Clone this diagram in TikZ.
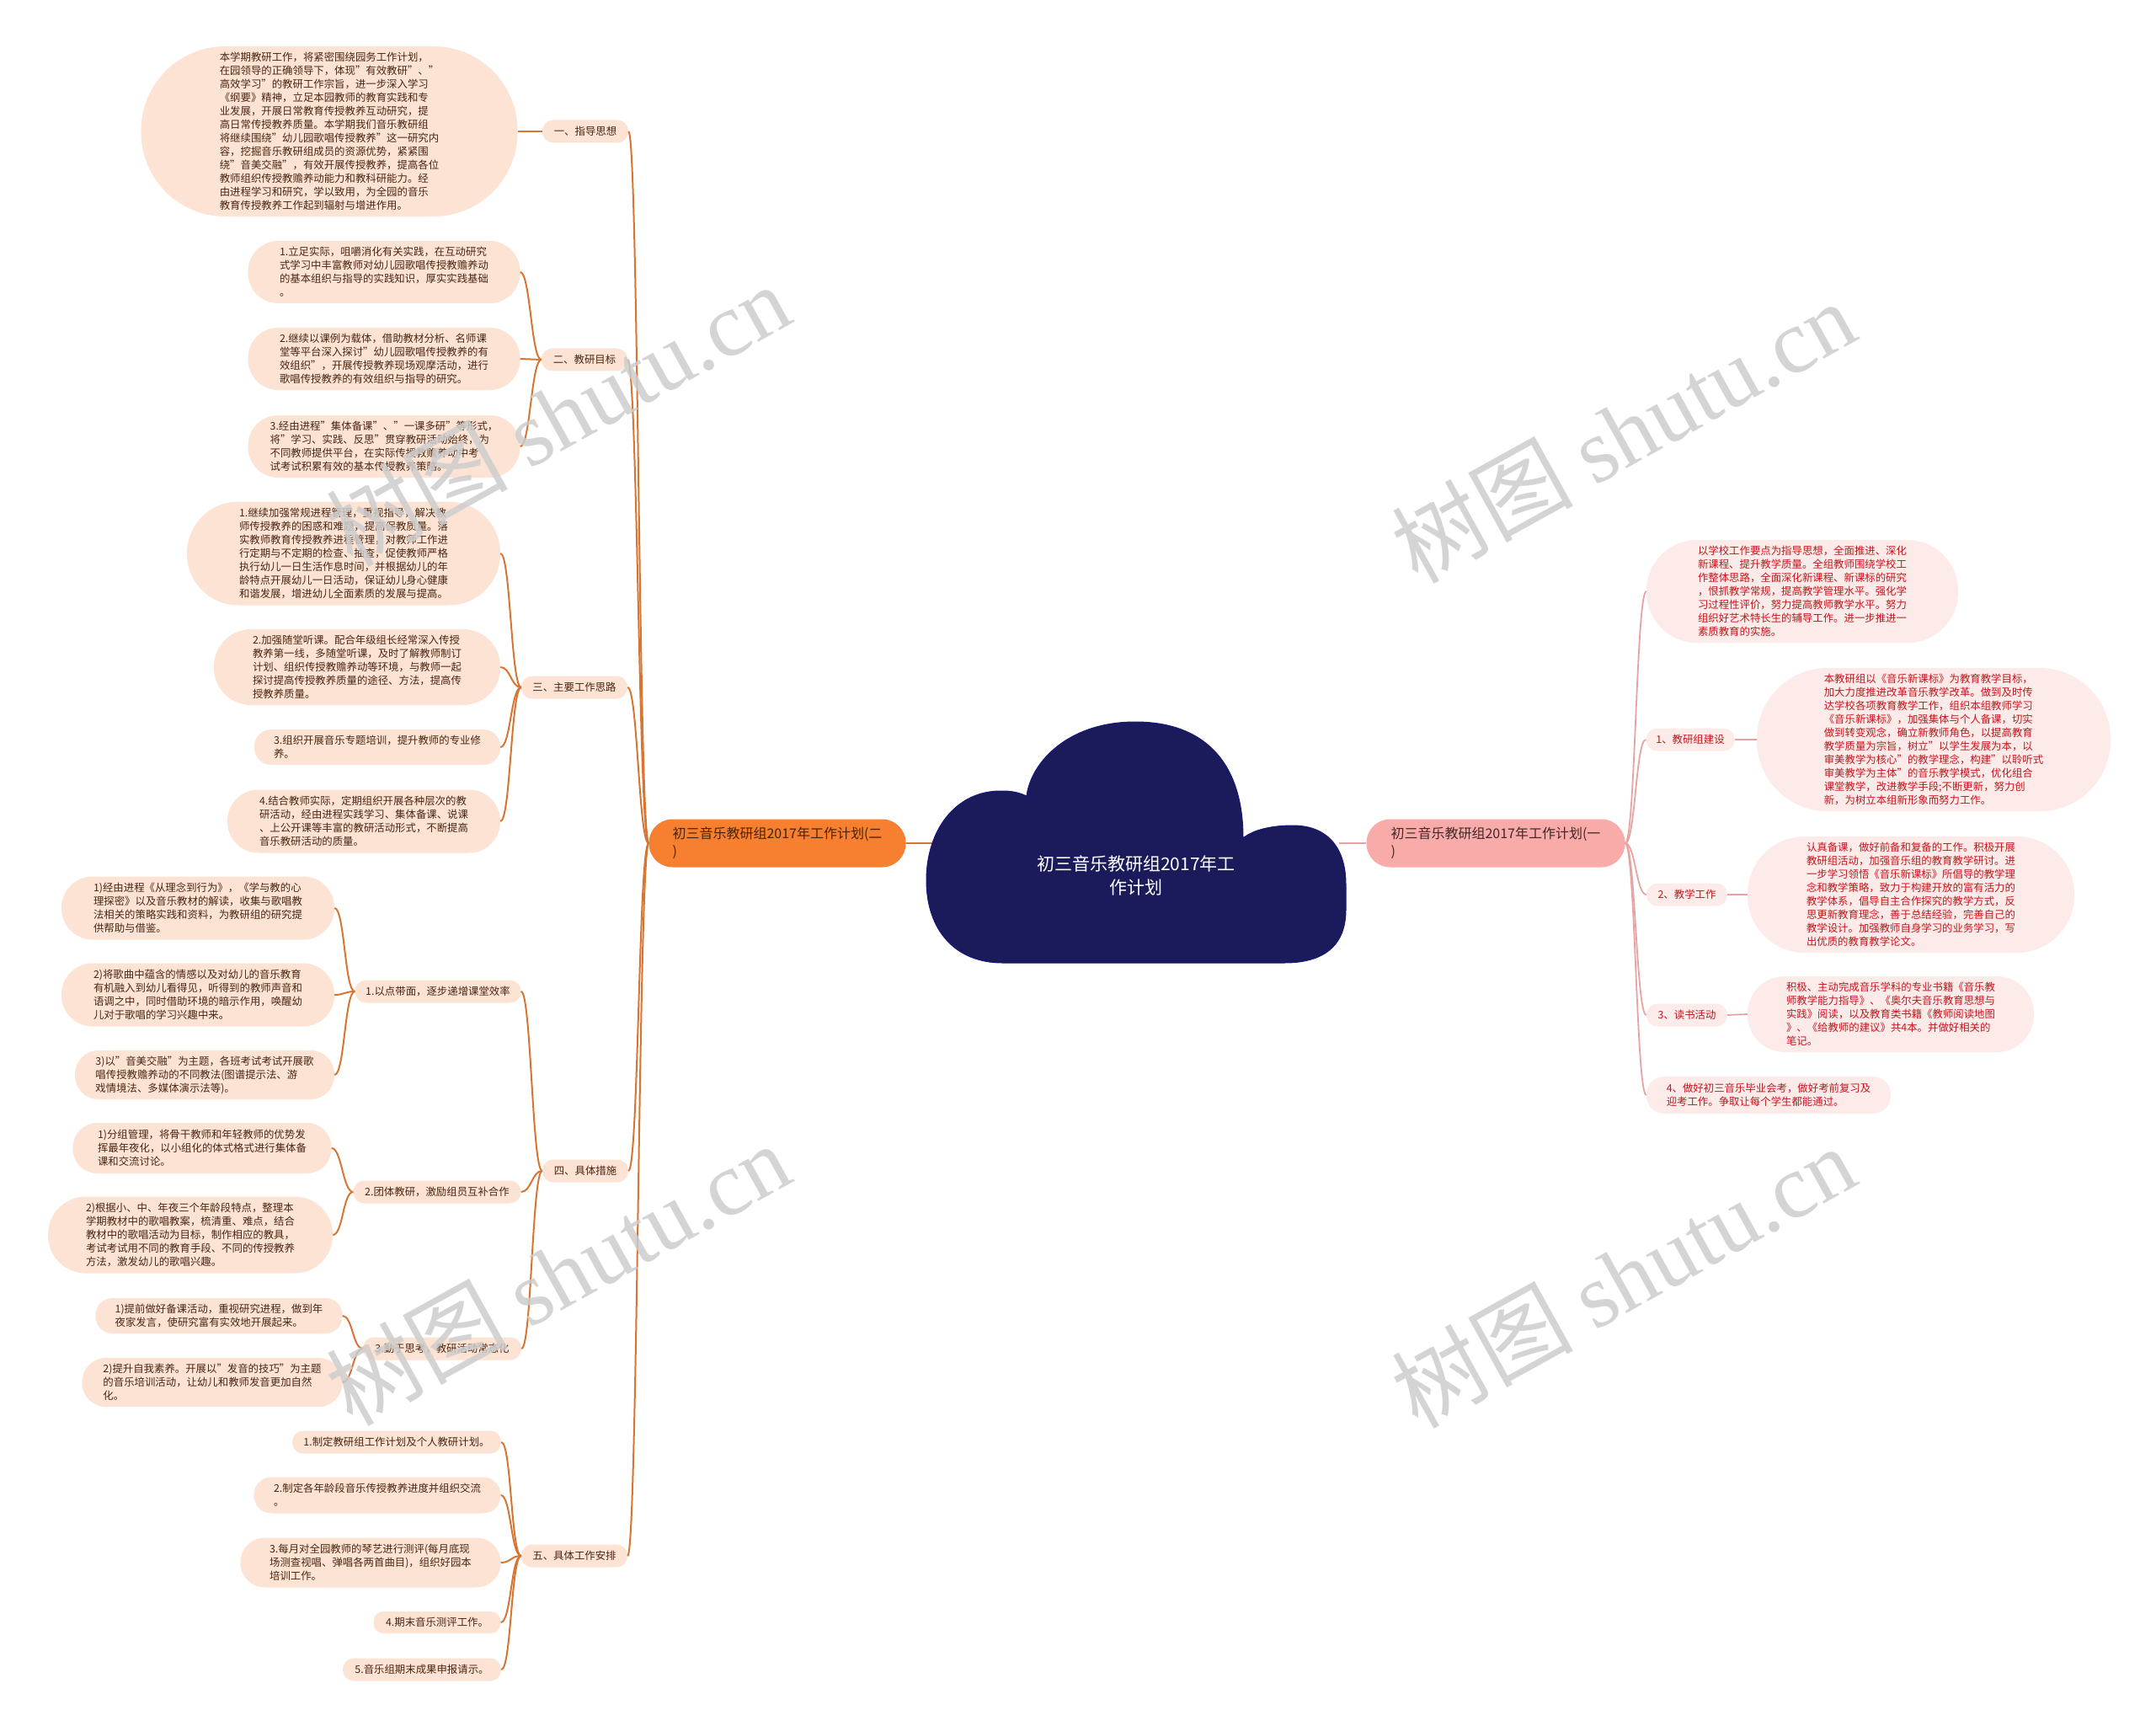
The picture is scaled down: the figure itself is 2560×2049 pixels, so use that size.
\documentclass[tikz,border=0pt]{standalone}
\usepackage{fontspec}
\setmainfont{Noto Sans CJK SC}
\newfontfamily\wmserif{Liberation Serif}
\definecolor{lfill}{HTML}{FCE3D3}
\definecolor{ltext}{HTML}{4A2612}
\definecolor{llinec}{HTML}{D77532}
\definecolor{mainLfill}{HTML}{F6802F}
\definecolor{mainLtext}{HTML}{4A2200}
\definecolor{rfill}{HTML}{FDEBEA}
\definecolor{rtext}{HTML}{C3151C}
\definecolor{rlinec}{HTML}{E7A3A3}
\definecolor{mainRfill}{HTML}{F8ABA8}
\definecolor{mainRtext}{HTML}{40282A}
\definecolor{cloudc}{HTML}{1B1B5B}
\definecolor{wmc}{HTML}{CDCDCD}
\tikzset{
  lbox/.style={fill=lfill, text=ltext, inner sep=0pt, align=left, font=\fontsize{12.4}{16}\selectfont},
  rbox/.style={fill=rfill, text=rtext, inner sep=0pt, align=left, font=\fontsize{12.4}{16}\selectfont},
  mainbox/.style={inner sep=0pt, align=left, font=\fontsize{16}{21}\selectfont, minimum height=57pt, rounded corners=28pt},
  lline/.style={draw=llinec, line width=2pt},
  rline/.style={draw=rlinec, line width=1.8pt},
  wmark/.style={text=wmc, opacity=0.85, rotate=29, font=\fontsize{108}{120}\selectfont},
}
\begin{document}
\begin{tikzpicture}[x=1pt,y=-1pt]
\fill[white] (0,0) rectangle (2560,2049);
\useasboundingbox (0,0) rectangle (2560,2049);

% ---------- left branch: level 1 ----------
\node[lbox, minimum width=102pt, minimum height=27pt, rounded corners=13pt] (L1) at (695,156) {一、指导思想};
\node[lbox, minimum width=102pt, minimum height=27pt, rounded corners=13pt] (L2) at (694,427) {二、教研目标};
\node[lbox, minimum width=126pt, minimum height=27pt, rounded corners=13pt] (L3) at (682,816) {三、主要工作思路};
\node[lbox, minimum width=102pt, minimum height=27pt, rounded corners=13pt] (L4) at (695,1390) {四、具体措施};
\node[lbox, minimum width=126pt, minimum height=27pt, rounded corners=13pt] (L5) at (682,1847) {五、具体工作安排};

% ---------- left leaves ----------
\node[lbox, minimum width=447pt, minimum height=202pt, rounded corners=100pt] (a1) at (391,156) {本学期教研工作，将紧密围绕园务工作计划，\\在园领导的正确领导下，体现"有效教研"、"\\高效学习"的教研工作宗旨，进一步深入学习\\《纲要》精神，立足本园教师的教育实践和专\\业发展，开展日常教育传授教养互动研究，提\\高日常传授教养质量。本学期我们音乐教研组\\将继续围绕"幼儿园歌唱传授教养"这一研究内\\容，挖掘音乐教研组成员的资源优势，紧紧围\\绕"音美交融"，有效开展传授教养，提高各位\\教师组织传授教赡养动能力和教科研能力。经\\由进程学习和研究，学以致用，为全园的音乐\\教育传授教养工作起到辐射与增进作用。};

\node[lbox, minimum width=323pt, minimum height=74pt, rounded corners=36pt] (b1) at (456,323) {1.立足实际，咀嚼消化有关实践，在互动研究\\式学习中丰富教师对幼儿园歌唱传授教赡养动\\的基本组织与指导的实践知识，厚实实践基础\\。};
\node[lbox, minimum width=323pt, minimum height=74pt, rounded corners=36pt] (b2) at (456,426) {2.继续以课例为载体，借助教材分析、名师课\\堂等平台深入探讨"幼儿园歌唱传授教养的有\\效组织"，开展传授教养现场观摩活动，进行\\歌唱传授教养的有效组织与指导的研究。};
\node[lbox, minimum width=323pt, minimum height=74pt, rounded corners=36pt] (b3) at (456,530) {3.经由进程"集体备课"、"一课多研"等形式，\\将"学习、实践、反思"贯穿教研活动始终，为\\不同教师提供平台，在实际传授教赡养动中考\\试考试积累有效的基本传授教养策略。};

\node[lbox, minimum width=372pt, minimum height=123pt, rounded corners=61pt] (c1) at (408,657) {1.继续加强常规进程管理，重视指导，解决教\\师传授教养的困惑和难题，提高保教质量。落\\实教师教育传授教养进程管理，对教师工作进\\行定期与不定期的检查、抽查，促使教师严格\\执行幼儿一日生活作息时间，并根据幼儿的年\\龄特点开展幼儿一日活动，保证幼儿身心健康\\和谐发展，增进幼儿全面素质的发展与提高。};
\node[lbox, minimum width=340pt, minimum height=90pt, rounded corners=44pt] (c2) at (424,792) {2.加强随堂听课。配合年级组长经常深入传授\\教养第一线，多随堂听课，及时了解教师制订\\计划、组织传授教赡养动等环境，与教师一起\\探讨提高传授教养质量的途径、方法，提高传\\授教养质量。};
\node[lbox, minimum width=292pt, minimum height=42pt, rounded corners=20pt] (c3) at (448,887) {3.组织开展音乐专题培训，提升教师的专业修\\养。};
\node[lbox, minimum width=324pt, minimum height=75pt, rounded corners=37pt] (c4) at (432,975) {4.结合教师实际，定期组织开展各种层次的教\\研活动，经由进程实践学习、集体备课、说课\\、上公开课等丰富的教研活动形式，不断提高\\音乐教研活动的质量。};

% level 2 under 四
\node[lbox, minimum width=197pt, minimum height=27pt, rounded corners=13pt] (S1) at (520,1177) {1.以点带面，逐步递增课堂效率};
\node[lbox, minimum width=199pt, minimum height=27pt, rounded corners=13pt] (S2) at (519,1415) {2.团体教研，激励组员互补合作};
\node[lbox, minimum width=188pt, minimum height=27pt, rounded corners=13pt] (S3) at (525,1601) {3.勤于思考，教研活动常态化};

\node[lbox, minimum width=324pt, minimum height=75pt, rounded corners=37pt] (d11) at (235,1078) {1)经由进程《从理念到行为》，《学与教的心\\理探密》以及音乐教材的解读，收集与歌唱教\\法相关的策略实践和资料，为教研组的研究提\\供帮助与借鉴。};
\node[lbox, minimum width=324pt, minimum height=75pt, rounded corners=37pt] (d12) at (235,1181) {2)将歌曲中蕴含的情感以及对幼儿的音乐教育\\有机融入到幼儿看得见，听得到的教师声音和\\语调之中，同时借助环境的暗示作用，唤醒幼\\儿对于歌唱的学习兴趣中来。};
\node[lbox, minimum width=308pt, minimum height=58pt, rounded corners=28pt] (d13) at (243,1276) {3)以"音美交融"为主题，各班考试考试开展歌\\唱传授教赡养动的不同教法(图谱提示法、游\\戏情境法、多媒体演示法等)。};

\node[lbox, minimum width=307pt, minimum height=60pt, rounded corners=29pt] (d21) at (240,1363) {1)分组管理，将骨干教师和年轻教师的优势发\\挥最年夜化，以小组化的体式格式进行集体备\\课和交流讨论。};
\node[lbox, minimum width=338pt, minimum height=91pt, rounded corners=45pt] (d22) at (226,1466) {2)根据小、中、年夜三个年龄段特点，整理本\\学期教材中的歌唱教案，梳清重、难点，结合\\教材中的歌唱活动为目标，制作相应的教具，\\考试考试用不同的教育手段、不同的传授教养\\方法，激发幼儿的歌唱兴趣。};

\node[lbox, minimum width=293pt, minimum height=42pt, rounded corners=20pt] (d31) at (260,1562) {1)提前做好备课活动，重视研究进程，做到年\\夜家发言，使研究富有实效地开展起来。};
\node[lbox, minimum width=309pt, minimum height=58pt, rounded corners=28pt] (d32) at (252,1641) {2)提升自我素养。开展以"发音的技巧"为主题\\的音乐培训活动，让幼儿和教师发音更加自然\\化。};

\node[lbox, minimum width=248pt, minimum height=27pt, rounded corners=13pt] (e1) at (471,1712) {1.制定教研组工作计划及个人教研计划。};
\node[lbox, minimum width=293pt, minimum height=43pt, rounded corners=21pt] (e2) at (448,1775) {2.制定各年龄段音乐传授教养进度并组织交流\\。};
\node[lbox, minimum width=309pt, minimum height=59pt, rounded corners=29pt] (e3) at (440,1855) {3.每月对全园教师的琴艺进行测评(每月底现\\场测查视唱、弹唱各两首曲目)，组织好园本\\培训工作。};
\node[lbox, minimum width=151pt, minimum height=26pt, rounded corners=12pt] (e4) at (519,1926) {4.期末音乐测评工作。};
\node[lbox, minimum width=188pt, minimum height=27pt, rounded corners=13pt] (e5) at (501,1982) {5.音乐组期末成果申报请示。};

% ---------- main nodes ----------
\node[mainbox, fill=mainLfill, text=mainLtext, minimum width=305pt] (M2) at (923,1001) {初三音乐教研组2017年工作计划(二\\)};
\node[mainbox, fill=mainRfill, text=mainRtext, minimum width=307pt] (M1) at (1776,1001) {初三音乐教研组2017年工作计划(一\\)};

% ---------- right branch ----------
\node[rbox, minimum width=370pt, minimum height=122pt, rounded corners=60pt] (R0) at (2140,702) {以学校工作要点为指导思想，全面推进、深化\\新课程、提升教学质量。全组教师围绕学校工\\作整体思路，全面深化新课程、新课标的研究\\，恨抓教学常规，提高教学管理水平。强化学\\习过程性评价，努力提高教师教学水平。努力\\组织好艺术特长生的辅导工作。进一步推进一\\素质教育的实施。};
\node[rbox, minimum width=105pt, minimum height=27pt, rounded corners=13pt] (RL1) at (2007,878) {1、教研组建设};
\node[rbox, minimum width=420pt, minimum height=170pt, rounded corners=84pt] (R1) at (2296,878) {本教研组以《音乐新课标》为教育教学目标，\\加大力度推进改革音乐教学改革。做到及时传\\达学校各项教育教学工作，组织本组教师学习\\《音乐新课标》，加强集体与个人备课，切实\\做到转变观念，确立新教师角色，以提高教育\\教学质量为宗旨，树立"以学生发展为本，以\\审美教学为核心"的教学理念，构建"以聆听式\\审美教学为主体"的音乐教学模式，优化组合\\课堂教学，改进教学手段;不断更新，努力创\\新，为树立本组新形象而努力工作。};
\node[rbox, minimum width=96pt, minimum height=27pt, rounded corners=13pt] (RL2) at (2003,1062) {2、教学工作};
\node[rbox, minimum width=388pt, minimum height=138pt, rounded corners=68pt] (R2) at (2269,1062) {认真备课，做好前备和复备的工作。积极开展\\教研组活动，加强音乐组的教育教学研讨。进\\一步学习领悟《音乐新课标》所倡导的教学理\\念和教学策略，致力于构建开放的富有活力的\\教学体系，倡导自主合作探究的教学方式，反\\思更新教育理念，善于总结经验，完善自己的\\教学设计。加强教师自身学习的业务学习，写\\出优质的教育教学论文。};
\node[rbox, minimum width=96pt, minimum height=27pt, rounded corners=13pt] (RL3) at (2003,1205) {3、读书活动};
\node[rbox, minimum width=340pt, minimum height=90pt, rounded corners=44pt] (R3) at (2245,1204) {积极、主动完成音乐学科的专业书籍《音乐教\\师教学能力指导》、《奥尔夫音乐教育思想与\\实践》阅读，以及教育类书籍《教师阅读地图\\》、《给教师的建议》共4本。并做好相关的\\笔记。};
\node[rbox, minimum width=290pt, minimum height=44pt, rounded corners=21pt] (R4) at (2100,1300) {4、做好初三音乐毕业会考，做好考前复习及\\迎考工作。争取让每个学生都能通过。};

% ---------- connectors ----------
\foreach \c in {L1,L2,L3,L4,L5}
  \draw[lline] (\c.east) .. controls +(12,0) and +(-12,0) .. (M2.west);
\draw[lline] (a1.east) -- (L1.west);
\foreach \c in {b1,b2,b3}
  \draw[lline] (\c.east) .. controls +(12,0) and +(-12,0) .. (L2.west);
\foreach \c in {c1,c2,c3,c4}
  \draw[lline] (\c.east) .. controls +(12,0) and +(-12,0) .. (L3.west);
\foreach \c in {S1,S2,S3}
  \draw[lline] (\c.east) .. controls +(12,0) and +(-12,0) .. (L4.west);
\foreach \c in {d11,d12,d13}
  \draw[lline] (\c.east) .. controls +(12,0) and +(-12,0) .. (S1.west);
\foreach \c in {d21,d22}
  \draw[lline] (\c.east) .. controls +(12,0) and +(-12,0) .. (S2.west);
\foreach \c in {d31,d32}
  \draw[lline] (\c.east) .. controls +(12,0) and +(-12,0) .. (S3.west);
\foreach \c in {e1,e2,e3,e4,e5}
  \draw[lline] (\c.east) .. controls +(12,0) and +(-12,0) .. (L5.west);

\foreach \c in {R0,RL1,RL2,RL3,R4}
  \draw[rline] (M1.east) .. controls +(12,0) and +(-12,0) .. (\c.west);
\draw[rline] (RL1.east) -- (R1.west);
\draw[rline] (RL2.east) -- (R2.west);
\draw[rline] (RL3.east) -- (R3.west);

\coordinate (cloudL) at (1110,1001);
\coordinate (cloudR) at (1590,1001);
\draw[lline] (M2.east) -- (cloudL);
\draw[rline] (cloudR) -- (M1.west);

% ---------- central cloud ----------
\fill[cloudc, draw=cloudc!80!blue, line width=1pt]
  (1190,1143) -- (1525,1143)
  .. controls (1575,1143) and (1598,1120) .. (1598,1080)
  -- (1598,1050)
  .. controls (1598,1005) and (1575,980) .. (1535,980)
  .. controls (1510,980) and (1488,985) .. (1476,995)
  .. controls (1476,905) and (1430,857) .. (1348,857)
  .. controls (1268,857) and (1224,905) .. (1219,945)
  .. controls (1208,940) and (1200,939) .. (1188,939)
  .. controls (1135,939) and (1100,985) .. (1100,1045)
  .. controls (1100,1105) and (1135,1143) .. (1190,1143) -- cycle;
\node[text=white, align=center, font=\fontsize{21}{28}\selectfont] (root) at (1349,1039) {初三音乐教研组2017年工\\作计划};

% ---------- watermarks ----------
\node[wmark] (wm1) at (662,492) {树图 {\wmserif shutu.cn}};
\node[wmark] (wm2) at (1927,512) {树图 {\wmserif shutu.cn}};
\node[wmark] (wm3) at (662,1512) {树图 {\wmserif shutu.cn}};
\node[wmark] (wm4) at (1927,1515) {树图 {\wmserif shutu.cn}};
\end{tikzpicture}
\end{document}
